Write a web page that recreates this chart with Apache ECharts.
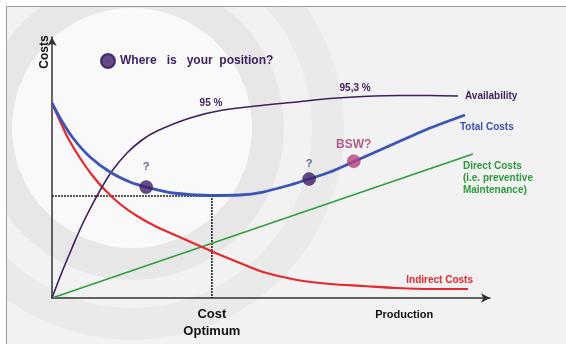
<!DOCTYPE html>
<html>
<head>
<meta charset="utf-8">
<script src="https://cdn.jsdelivr.net/npm/echarts@6/dist/echarts.min.js"></script>
<style>html,body{margin:0;padding:0;background:#fff}#c{width:566px;height:344px}</style>
</head>
<body>
<div id="c"></div>
<script>
// ---- data (arbitrary units 0..100) ----
const availabilityX = [0, 2.28, 4.57, 6.85, 9.13, 11.42, 13.70, 17.12, 20.55, 23.97, 31.51, 39.04, 48.63, 55.94, 63.47, 71.00, 79.45, 86.30, 92.69];
const availabilityY = [0, 9.96, 19.16, 27.97, 35.63, 42.53, 48.66, 55.56, 60.54, 63.98, 68.97, 72.03, 73.95, 75.10, 76.44, 77.20, 77.59, 77.59, 77.39];
const indirectX = [0, 1.83, 3.65, 6.39, 9.13, 12.10, 15.53, 19.41, 23.52, 28.08, 36.53, 42.92, 48.17, 55.94, 63.47, 71.00, 78.77, 86.30, 94.98];
const indirectY = [74.71, 67.82, 61.30, 53.64, 47.13, 41.38, 36.02, 31.42, 27.59, 24.14, 17.82, 13.41, 9.96, 6.90, 5.36, 4.60, 3.83, 3.45, 3.45];
const totalX = [0, 1.83, 4.79, 8.68, 13.24, 17.81, 21.46, 27.63, 36.07, 42.92, 48.17, 54.34, 58.68, 63.47, 68.95, 74.89, 81.05, 86.30, 94.29];
const totalY = [74.71, 68.97, 61.30, 54.02, 48.28, 44.44, 42.53, 40.23, 39.27, 39.46, 40.61, 43.30, 45.59, 48.28, 52.30, 56.70, 61.30, 65.13, 70.11];
const directX = [0, 96.1];
const directY = [0, 55.2];
const optimumX = 36.5;
const optimumY = 39.1;
const positionX = [21.5, 58.7, 68.9];
const positionY = [42.5, 45.6, 52.4];
const positionLabels = ['?', '?', 'BSW?'];
const availabilityNoteX = [36.3, 69.2];
const availabilityNoteY = [71.0, 77.0];
const availabilityNotes = ['95 %', '95,3 %'];
const xTickValues = [36.5, 80.4];
const xTickLabels = ['Cost\nOptimum', 'Production'];
const seriesNames = ['Availability', 'Total Costs', 'Direct Costs\n(i.e. preventive\nMaintenance)', 'Indirect Costs'];
const legendName = 'Where   is   your  position?';
const yAxisName = 'Costs';

const pairs = (xs, ys) => xs.map((x, i) => [x, ys[i]]);
const FONT = 'Liberation Sans, Arial, sans-serif';

const chart = echarts.init(document.getElementById('c'), null, {renderer: 'canvas'});
const C = [132, 128];
chart.setOption({
  animation: false,
  backgroundColor: '#ffffff',
  graphic: {
    elements: [
      {type: 'rect', z: -10, shape: {x: 6, y: 6, width: 600, height: 400}, style: {fill: '#f2f2f2'}},
      {type: 'circle', z: -9, shape: {cx: C[0], cy: C[1], r: 196}, style: {fill: 'none', stroke: '#eaeaea', lineWidth: 32}},
      {type: 'circle', z: -9, shape: {cx: C[0], cy: C[1], r: 136}, style: {fill: 'none', stroke: '#e7e7e7', lineWidth: 32}},
      {type: 'circle', z: -9, shape: {cx: C[0], cy: C[1], r: 120}, style: {fill: '#f9f9f9'}},
      {type: 'rect', z: -8, shape: {x: 0, y: 0, width: 566, height: 6}, style: {fill: '#ffffff'}},
      {type: 'rect', z: -8, shape: {x: 0, y: 0, width: 6, height: 344}, style: {fill: '#ffffff'}},
      {type: 'polyline', z: -7, shape: {points: [[6.5, 344], [6.5, 6.5], [566, 6.5]]}, style: {stroke: '#9a9a9a', lineWidth: 1, fill: 'none'}},
      {type: 'text', z: 10, x: 45, y: 52, rotation: Math.PI / 2,
        style: {text: yAxisName, fill: '#111', font: 'bold 12px ' + FONT, align: 'center', verticalAlign: 'middle'}}
    ]
  },
  legend: {
    data: [legendName], left: 95, top: 48, icon: 'circle', itemWidth: 14, itemHeight: 14, itemGap: 5,
    textStyle: {fontFamily: FONT, fontWeight: 'bold', fontSize: 12, color: '#3a1f5e'}, selectedMode: false
  },
  grid: {left: 52, top: 37, right: 76, bottom: 46},
  xAxis: {
    type: 'value', min: 0, max: 100,
    axisLine: {show: true, symbol: ['none', 'arrow'], symbolSize: [7, 9], lineStyle: {color: '#333', width: 1.5}},
    axisTick: {show: false}, splitLine: {show: false},
    axisLabel: {
      customValues: xTickValues, margin: 8, showMinLabel: true, showMaxLabel: true,
      formatter: (v) => {
        const i = xTickValues.indexOf(v);
        if (i === 0) return xTickLabels[0].split('\n').map(s => '{a|' + s + '}').join('\n');
        if (i === 1) return '{b|' + xTickLabels[1] + '}';
        return '';
      },
      rich: {
        a: {fontFamily: FONT, fontWeight: 'bold', fontSize: 13, color: '#111', lineHeight: 17},
        b: {fontFamily: FONT, fontWeight: 'bold', fontSize: 11, color: '#111', lineHeight: 17}
      }
    }
  },
  yAxis: {
    type: 'value', min: 0, max: 100,
    axisLine: {show: true, symbol: ['none', 'arrow'], symbolSize: [7, 9], lineStyle: {color: '#333', width: 1.5}},
    axisTick: {show: false}, splitLine: {show: false}, axisLabel: {show: false}
  },
  series: [
    {
      name: 'optimum', type: 'line', silent: true, symbol: 'none', z: 1,
      data: [[0, optimumY], [optimumX, optimumY], [optimumX, 0]],
      lineStyle: {color: '#222', width: 1.6, type: [2, 1]}
    },
    {
      name: seriesNames[2], type: 'line', symbol: 'none', z: 2,
      data: pairs(directX, directY),
      lineStyle: {color: '#2f9e40', width: 1.5},
      endLabel: {show: true, formatter: seriesNames[2], distance: 0, align: 'left', verticalAlign: 'top', offset: [-10, 6],
        fontFamily: FONT, fontWeight: 'bold', fontSize: 10, lineHeight: 12, color: '#2b9a3c'}
    },
    {
      name: seriesNames[3], type: 'line', symbol: 'none', smooth: 0.3, z: 3,
      data: pairs(indirectX, indirectY),
      lineStyle: {color: '#e8262c', width: 2.2},
      endLabel: {show: true, formatter: seriesNames[3], distance: 0, align: 'right', verticalAlign: 'middle', offset: [5, -9],
        fontFamily: FONT, fontWeight: 'bold', fontSize: 10, color: '#e8262c'}
    },
    {
      name: seriesNames[0], type: 'line', symbol: 'none', smooth: 0.3, z: 4,
      data: pairs(availabilityX, availabilityY),
      lineStyle: {color: '#3f1f62', width: 1.6},
      endLabel: {show: true, formatter: seriesNames[0], distance: 0, align: 'left', verticalAlign: 'middle', offset: [7, 0],
        fontFamily: FONT, fontWeight: 'bold', fontSize: 10, color: '#3b1f5c'},
      markPoint: {
        symbol: 'circle', symbolSize: 0, silent: true,
        data: availabilityNotes.map((t, i) => ({name: t, coord: [availabilityNoteX[i], availabilityNoteY[i]]})),
        label: {show: true, position: 'top', distance: 4, formatter: (p) => p.name,
          fontFamily: FONT, fontWeight: 'bold', fontSize: 10, color: '#3f2063'}
      }
    },
    {
      name: seriesNames[1], type: 'line', symbol: 'none', smooth: 0.3, z: 5,
      data: pairs(totalX, totalY),
      lineStyle: {color: '#3c54b6', width: 2.8},
      endLabel: {show: true, formatter: seriesNames[1], distance: 0, align: 'left', verticalAlign: 'middle', offset: [-5, 12],
        fontFamily: FONT, fontWeight: 'bold', fontSize: 10, color: '#3a50b4'}
    },
    {
      name: legendName, type: 'scatter', z: 6, symbol: 'circle', symbolSize: 13,
      itemStyle: {color: '#3e1f6c', borderColor: '#2c1450', borderWidth: 0.5},
      data: positionX.map((x, i) => {
        const isBsw = positionLabels[i] === 'BSW?';
        return {
          value: [x, positionY[i]],
          itemStyle: isBsw ? {color: '#b4427f', borderColor: '#9a2f69'} : undefined,
          label: {
            show: true, position: 'top', formatter: positionLabels[i],
            distance: i === 0 ? 8 : (i === 1 ? 3 : 4),
            fontFamily: FONT, fontWeight: 'bold', fontSize: isBsw ? 12 : 11,
            color: isBsw ? '#a0386f' : '#4a3f7a'
          }
        };
      })
    }
  ]
});
</script>
</body>
</html>
